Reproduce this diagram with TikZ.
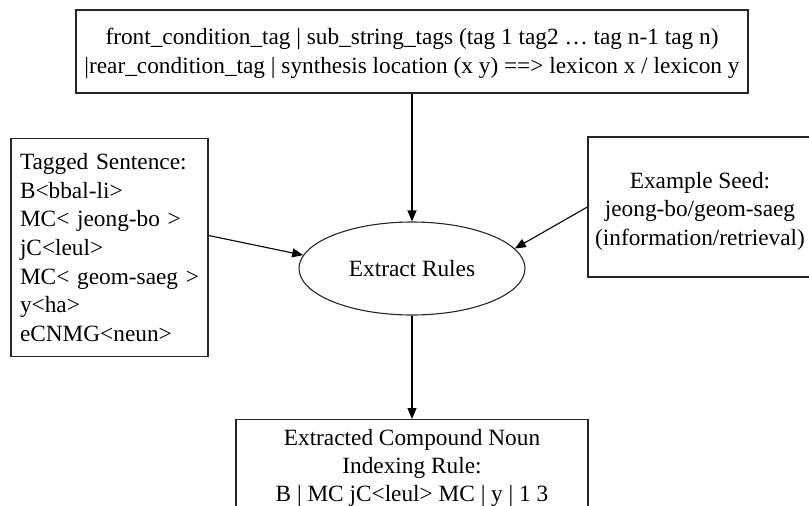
\documentclass[tikz,border=0pt]{standalone}
\usepackage{fontspec}
\setmainfont{Liberation Serif}
\usetikzlibrary{shapes.geometric,arrows.meta}
\begin{document}
\begin{tikzpicture}[x=1pt,y=-1pt,
  every node/.style={font=\fontsize{23.3}{28.6}\selectfont},
  frame/.style={draw=black!85, line width=1.3pt, inner sep=0pt},
  link/.style={line width=1.1pt, -{Triangle[length=11pt,width=9pt]}}]
\useasboundingbox (0,0) rectangle (809,506);
% rule template
\node[frame, minimum width=672pt, minimum height=83pt] (rule) at (412,51.5) {};
\node[align=center, inner sep=0pt] (ruletext) at (412,53.5)
  {front\_condition\_tag | sub\_string\_tags (tag 1 tag2 … tag n-1 tag n)\\
   |rear\_condition\_tag | synthesis location (x y) ==> lexicon x / lexicon y};
% tagged input sentence
\node[frame, minimum width=197pt, minimum height=218pt, align=left, text width=179pt] (sent) at (109.5,247.5)
  {Tagged Sentence:\\B<bbal-li>\\MC< jeong-bo >\\jC<leul>\\MC< geom-saeg >\\y<ha>\\eCNMG<neun>};
% seed pair
\node[frame, minimum width=224pt, minimum height=140pt] (seed) at (700,207) {};
\node[align=center, inner sep=0pt] (seedtext) at (700,211)
  {Example Seed:\\jeong-bo/geom-saeg\\(information/retrieval)};
% extraction step
\node[ellipse, draw=black!85, line width=1.1pt, minimum width=226pt, minimum height=93pt, inner sep=0pt] (ext) at (412,268.5)
  {Extract Rules};
% resulting rule
\node[frame, anchor=north, minimum width=352pt, inner ysep=10pt, align=center,
      font=\fontsize{23.3}{27.8}\selectfont] (out) at (412,419)
  {Extracted Compound Noun\\Indexing Rule:\\B | MC jC<leul> MC | y | 1 3};
% connectors
\draw[link] (rule.south) -- (ext.north);
\draw[link] ([yshift=12pt]sent.east) -- (ext.173.6);
\draw[link] (seed.west) -- (ext.11);
\draw[link] (ext.south) -- (out.north);
\end{tikzpicture}
\end{document}
